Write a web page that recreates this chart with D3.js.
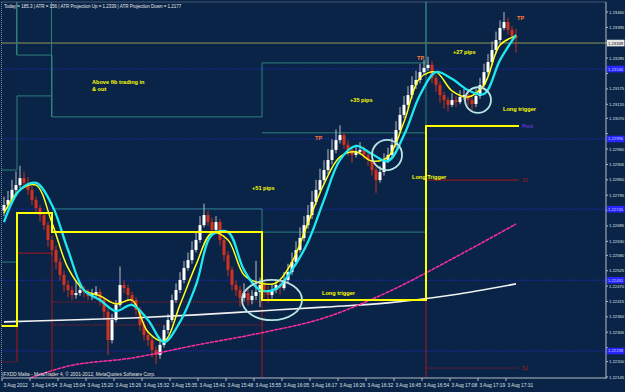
<html lang="en"><head>
<meta http-equiv="Content-Type" content="text/html; charset=UTF-8">
<title>EURUSD,M1</title>
<script type="text/javascript" src="https://cdn.jsdelivr.net/npm/d3@7"></script>
<style type="text/css">
body { margin: 0; background: #0a2447; }
text { font-family: "Liberation Sans", Arial, sans-serif; }
</style>
</head>
<body>
<script type="text/javascript">

var width = 625;
var height = 392;
var plotLeft = 1.5, plotRight = 606, plotTop = 2, plotBottom = 378;

//candles: open of the first bar, then close / high / low of every bar
var firstOpen = 1.22740;
var closes = [1.22760,1.22778,1.22814,1.22831,1.22856,1.22839,1.22814,1.22778,1.22749,1.22724,
  1.22688,1.22635,1.22599,1.22556,1.22510,1.22474,1.22456,1.22438,1.22445,1.22456,
  1.22449,1.22435,1.22442,1.22449,1.22420,1.22378,1.22277,1.22349,1.22403,1.22474,
  1.22463,1.22438,1.22420,1.22385,1.22331,1.22295,1.22277,1.22242,1.22224,1.22260,
  1.22313,1.22349,1.22420,1.22456,1.22492,1.22535,1.22563,1.22599,1.22635,1.22688,
  1.22724,1.22699,1.22671,1.22699,1.22635,1.22581,1.22528,1.22474,1.22456,1.22428,
  1.22445,1.22420,1.22435,1.22449,1.22474,1.22456,1.22438,1.22456,1.22474,1.22463,
  1.22492,1.22520,1.22556,1.22599,1.22642,1.22688,1.22724,1.22771,1.22814,1.22849,
  1.22885,1.22921,1.22957,1.22992,1.23010,1.22975,1.22957,1.22939,1.22950,1.22957,
  1.22939,1.22921,1.22885,1.22849,1.22878,1.22921,1.22939,1.22975,1.23028,1.23082,
  1.23118,1.23153,1.23189,1.23207,1.23235,1.23250,1.23261,1.23214,1.23189,1.23153,
  1.23135,1.23118,1.23135,1.23128,1.23146,1.23153,1.23135,1.23121,1.23150,1.23189,
  1.23235,1.23271,1.23314,1.23350,1.23393,1.23414,1.23386,1.23364,1.23357];
var highs = [1.22790,1.22810,1.22850,1.22880,1.22900,1.22880,1.22860,1.22830,1.22790,1.22760,
  1.22735,1.22700,1.22650,1.22615,1.22570,1.22525,1.22490,1.22470,1.22490,1.22480,
  1.22470,1.22460,1.22460,1.22470,1.22460,1.22430,1.22390,1.22370,1.22420,1.22540,
  1.22490,1.22475,1.22450,1.22430,1.22395,1.22345,1.22310,1.22290,1.22255,1.22280,
  1.22330,1.22370,1.22440,1.22480,1.22520,1.22560,1.22590,1.22630,1.22665,1.22720,
  1.22765,1.22740,1.22715,1.22720,1.22710,1.22645,1.22595,1.22540,1.22490,1.22470,
  1.22480,1.22460,1.22455,1.22560,1.22500,1.22490,1.22470,1.22475,1.22495,1.22490,
  1.22520,1.22550,1.22590,1.22630,1.22680,1.22720,1.22760,1.22810,1.22850,1.22890,
  1.22920,1.22960,1.22995,1.23030,1.23045,1.23020,1.22990,1.22970,1.22975,1.22985,
  1.22970,1.22950,1.22930,1.22895,1.22900,1.22945,1.22965,1.23000,1.23060,1.23110,
  1.23150,1.23185,1.23220,1.23240,1.23265,1.23280,1.23290,1.23275,1.23225,1.23200,
  1.23165,1.23145,1.23160,1.23150,1.23170,1.23175,1.23165,1.23145,1.23175,1.23215,
  1.23265,1.23300,1.23345,1.23380,1.23420,1.23450,1.23430,1.23400,1.23390];
var lows = [1.22720,1.22745,1.22765,1.22800,1.22820,1.22820,1.22795,1.22760,1.22730,1.22700,
  1.22670,1.22610,1.22580,1.22530,1.22490,1.22450,1.22430,1.22420,1.22425,1.22435,
  1.22430,1.22420,1.22420,1.22430,1.22400,1.22350,1.22224,1.22265,1.22340,1.22395,
  1.22445,1.22420,1.22400,1.22365,1.22310,1.22275,1.22255,1.22215,1.22190,1.22210,
  1.22250,1.22300,1.22340,1.22410,1.22445,1.22480,1.22525,1.22550,1.22590,1.22625,
  1.22680,1.22685,1.22650,1.22660,1.22615,1.22560,1.22505,1.22455,1.22435,1.22395,
  1.22415,1.22400,1.22405,1.22420,1.22395,1.22430,1.22410,1.22425,1.22445,1.22440,
  1.22455,1.22480,1.22510,1.22545,1.22590,1.22630,1.22675,1.22710,1.22760,1.22800,
  1.22835,1.22870,1.22905,1.22945,1.22980,1.22960,1.22935,1.22910,1.22930,1.22940,
  1.22925,1.22900,1.22865,1.22803,1.22840,1.22865,1.22910,1.22930,1.22965,1.23020,
  1.23070,1.23105,1.23140,1.23175,1.23195,1.23225,1.23240,1.23195,1.23165,1.23125,
  1.23105,1.23095,1.23110,1.23110,1.23120,1.23135,1.23115,1.23095,1.23110,1.23140,
  1.23180,1.23225,1.23260,1.23300,1.23340,1.23385,1.23370,1.23340,1.23305];

//moving averages, read every 4 bars
var fastMA = [1.22731,1.22814,1.22831,1.22696,1.22535,1.22456,1.22435,1.22406,1.22420,1.22306,
  1.22274,1.22403,1.22546,1.22660,1.22635,1.22510,1.22481,1.22481,1.22556,1.22696,
  1.22835,1.22932,1.22950,1.22917,1.22932,1.23057,1.23214,1.23235,1.23168,1.23146,
  1.23189,1.23332,1.23364];
var slowMA = [1.22699,1.22814,1.22839,1.22760,1.22599,1.22456,1.22420,1.22381,1.22403,1.22349,
  1.22270,1.22342,1.22474,1.22653,1.22663,1.22528,1.22456,1.22460,1.22528,1.22628,
  1.22778,1.22921,1.22971,1.22942,1.22917,1.23010,1.23153,1.23235,1.23211,1.23171,
  1.23157,1.23278,1.23368];
//long moving averages, read every 16 bars
var whiteMA = [1.22342,1.22349,1.22356,1.22367,1.22381,1.22395,1.22410,1.22438,1.22478];
var pinkMA = [1.22106,1.22184,1.22213,1.22259,1.22302,1.22356,1.22449,1.22567,1.22692];

//indicator periods (bar edges) and their levels
var periodEdges = [-1, 3.25, 12, 64.5, 105.5, 128.75];
var triggerLevels = [1.22327, 1.22731, 1.22663, 1.22420, 1.23042];
var tealUpper = [1.2360, 1.23296, 1.23075, 1.23268, 1.2360];
var tealMiddle = [1.22885, 1.23150, null, 1.23018, 1.2360];
var tealLower = [1.22556, null, 1.22746, 1.22663, null];
var tealEdgeTop = [1, 2];   // period edges whose teal line runs up to the top
var redSolid = [[1, 1.22588], [4, 1.22849]];
var redDotted = [[0, 1.22199], [2, 1.22413], [2, 1.22331], [4, 1.22177]];
var redVertical = [[1, 1.22588, 1.22199], [2, 1.22588, 1.2200], [3, 1.22663, 1.2200], [4, 1.22849, 1.2200]];
var blueLevels = [1.23246, 1.22996, 1.22745, 1.22491, 1.22238];
var priceLine = 1.23339;

var priceTicks = [1.23450,1.23395,1.23340,1.23285,1.23230,1.23175,1.23120,1.23070,1.23015,1.22960,
  1.22905,1.22850,1.22795,1.22740,1.22685,1.22630,1.22580,1.22525,1.22470,1.22415,
  1.22360,1.22305,1.22250,1.22200,1.22145];
var timeLabels = ["3 Aug 2012","3 Aug 14:54","3 Aug 15:04","3 Aug 15:20","3 Aug 15:26","3 Aug 15:32",
  "3 Aug 15:35","3 Aug 15:41","3 Aug 15:48","3 Aug 15:55","3 Aug 16:05","3 Aug 16:17","3 Aug 16:26",
  "3 Aug 16:32","3 Aug 16:45","3 Aug 16:54","3 Aug 17:08","3 Aug 17:19","3 Aug 17:31"];

//hand annotations: [text, bar, price]
var notes = [["Above fib trading in", 22, 1.23193], ["& out", 22, 1.23167], ["+35 pips", 86.5, 1.23128],
  ["+51 pips", 62, 1.22814], ["+27 pips", 112.25, 1.23300], ["Long trigger", 79.5, 1.22438],
  ["Long Trigger", 102, 1.22853], ["Long trigger", 124.75, 1.23096]];
var tpNotes = [[77.75, 1.22993], [103.25, 1.23278], [128.25, 1.23421]];
//circles: [bar, price, half width in bars, half height in price]
var circles = [[67, 1.22420, 7.5, 0.00072], [95.75, 1.22939, 3.75, 0.00054], [118.5, 1.23135, 3.25, 0.00046]];

var header = "Today = 185.3  |  ATR = 156  |  ATR Projection Up = 1.2339  |  ATR Projection Down = 1.2177";
var footer = "(FXDD Malta - MetaTrader 4, \u00a9 2001-2012, MetaQuotes Software Corp.";

var x = d3.scaleLinear().domain([0, 128]).range([4, 516]);
var y = d3.scaleLinear().domain([1.22145, 1.23450]).range([377, 12]);

var svg = d3.select("body").append("svg")
  .attr("width", width).attr("height", height);

svg.append("rect").attr("width", width).attr("height", height).attr("fill", "#0a2447");

svg.append("clipPath").attr("id", "plot")
  .append("rect").attr("x", plotLeft).attr("y", plotTop)
  .attr("width", plotRight - plotLeft).attr("height", plotBottom - plotTop);

var plot = svg.append("g").attr("clip-path", "url(#plot)");

//frame
svg.append("line").attr("x1", plotLeft).attr("x2", plotRight).attr("y1", plotTop).attr("y2", plotTop)
  .attr("stroke", "#7d8a9a").attr("stroke-dasharray", "1,1");
svg.append("line").attr("x1", plotLeft).attr("x2", plotLeft).attr("y1", plotTop).attr("y2", plotBottom)
  .attr("stroke", "#7d8a9a").attr("stroke-dasharray", "1,1");

//level lines
plot.selectAll(".blue").data(blueLevels).enter().append("line")
  .attr("x1", plotLeft).attr("x2", plotRight)
  .attr("y1", d => y(d)).attr("y2", d => y(d))
  .attr("stroke", "#2a2aff").attr("stroke-dasharray", "1,2");

plot.append("line").attr("x1", plotLeft).attr("x2", plotRight)
  .attr("y1", y(priceLine)).attr("y2", y(priceLine))
  .attr("stroke", "#8e9a58");

function periodPoints(levels) {
  var pts = [];
  levels.forEach(function(v, p) {
    pts.push([periodEdges[p], v]);
    pts.push([periodEdges[p + 1], v]);
  });
  return pts;
}
var levelLine = d3.line()
  .defined(d => d[1] != null)
  .x(d => x(d[0]))
  .y(d => y(d[1]));

[tealUpper, tealMiddle, tealLower].forEach(function(levels) {
  plot.append("path").attr("d", levelLine(periodPoints(levels)))
    .attr("fill", "none").attr("stroke", "#2e7f7c").attr("stroke-width", 1);
});
tealEdgeTop.forEach(function(p) {
  plot.append("line").attr("x1", x(periodEdges[p]) - 0.5).attr("x2", x(periodEdges[p]) - 0.5)
    .attr("y1", plotTop).attr("y2", y(tealUpper[p]))
    .attr("stroke", "#2e7f7c").attr("stroke-width", 1);
});

redSolid.forEach(function(r) {
  plot.append("line").attr("x1", x(periodEdges[r[0]]) + 1).attr("x2", x(periodEdges[r[0] + 1]))
    .attr("y1", y(r[1])).attr("y2", y(r[1]))
    .attr("stroke", "#a8161a").attr("stroke-width", 1);
});
redDotted.forEach(function(r) {
  plot.append("line").attr("x1", x(periodEdges[r[0]]) + 1).attr("x2", x(periodEdges[r[0] + 1]))
    .attr("y1", y(r[1])).attr("y2", y(r[1]))
    .attr("stroke", "#a8161a").attr("stroke-dasharray", "1,1");
});
redVertical.forEach(function(r) {
  plot.append("line").attr("x1", x(periodEdges[r[0]])).attr("x2", x(periodEdges[r[0]]))
    .attr("y1", y(r[1])).attr("y2", y(r[2]))
    .attr("stroke", "#a8161a").attr("stroke-width", 1);
});

//candles
var bars = closes.map(function(c, i) {
  return {i: i, open: i == 0 ? firstOpen : closes[i - 1], close: c, high: highs[i], low: lows[i]};
});
var candle = plot.selectAll(".candle").data(bars).enter().append("g");
candle.append("line")
  .attr("x1", d => x(d.i)).attr("x2", d => x(d.i))
  .attr("y1", d => y(d.high)).attr("y2", d => y(d.low))
  .attr("stroke", d => d.close >= d.open ? "#b8bcc4" : "#c8301f");
candle.append("rect")
  .attr("x", d => x(d.i) - 1.5).attr("width", 3)
  .attr("y", d => y(Math.max(d.open, d.close)))
  .attr("height", d => Math.max(1, Math.abs(y(d.open) - y(d.close))))
  .attr("fill", d => d.close >= d.open ? "#ffffff" : "#d2321e");

//moving averages
var maLine = d3.line()
  .x(d => x(d[0]))
  .y(d => y(d[1]))
  .curve(d3.curveCatmullRom);

plot.append("path").attr("d", maLine(whiteMA.map((v, k) => [k * 16, v])))
  .attr("fill", "none").attr("stroke", "#f2f2f2").attr("stroke-width", 1.6);
plot.append("path").attr("d", maLine(pinkMA.map((v, k) => [k * 16, v])))
  .attr("fill", "none").attr("stroke", "#ff2f9e").attr("stroke-width", 1.5)
  .attr("stroke-dasharray", "4,0.7");
plot.append("path").attr("d", maLine(fastMA.map((v, k) => [k * 4, v])))
  .attr("fill", "none").attr("stroke", "#ffff1a").attr("stroke-width", 1.5);
plot.append("path").attr("d", maLine(slowMA.map((v, k) => [k * 4, v])))
  .attr("fill", "none").attr("stroke", "#1ee8f0").attr("stroke-width", 2.3);

//trigger / pivot step line
plot.append("path").attr("d", levelLine(periodPoints(triggerLevels)))
  .attr("fill", "none").attr("stroke", "#ffff00").attr("stroke-width", 2);

//level names
var levelNames = [["Pivot", triggerLevels[4], "#7b3cf0"], ["S1", redSolid[1][1], "#a8161a"], ["S2", redDotted[3][1], "#a8161a"]];
svg.selectAll(".lvl").data(levelNames).enter().append("text")
  .attr("x", x(periodEdges[5]) + 3).attr("y", d => y(d[1]) + 2)
  .attr("font-size", 5).attr("fill", d => d[2]).text(d => d[0]);

//circles
plot.selectAll(".circ").data(circles).enter().append("ellipse")
  .attr("cx", d => x(d[0])).attr("cy", d => y(d[1]))
  .attr("rx", d => x(d[2]) - x(0)).attr("ry", d => y(0) - y(d[3]))
  .attr("fill", "none").attr("stroke", "#b6e6e4").attr("stroke-width", 1.8);

//annotations
svg.selectAll(".note").data(notes).enter().append("text")
  .attr("x", d => x(d[1])).attr("y", d => y(d[2]))
  .attr("font-size", 5.6).attr("font-weight", "bold").attr("fill", "#ffff00")
  .text(d => d[0]);
svg.selectAll(".tp").data(tpNotes).enter().append("text")
  .attr("x", d => x(d[0])).attr("y", d => y(d[1]))
  .attr("font-size", 5.6).attr("font-weight", "bold").attr("fill", "#ff7a3c")
  .text("TP");

//price axis; labels under a level box are hidden as in the terminal
var boxed = blueLevels.concat([priceLine]);
var shownTicks = priceTicks.filter(v => boxed.every(b => Math.abs(y(v) - y(b)) > 5.5));
svg.append("line").attr("x1", plotRight).attr("x2", plotRight).attr("y1", plotTop).attr("y2", plotBottom + 1)
  .attr("stroke", "#b4bcc6");
var pt = svg.selectAll(".ptick").data(priceTicks).enter().append("line")
  .attr("x1", plotRight).attr("x2", plotRight + 2)
  .attr("y1", d => y(d)).attr("y2", d => y(d)).attr("stroke", "#b4bcc6");
svg.selectAll(".plabel").data(shownTicks).enter().append("text")
  .attr("x", plotRight + 3).attr("y", d => y(d) + 1.5)
  .attr("font-size", 4.2).attr("fill", "#dde2e8").text(d => d.toFixed(5));

function priceBox(v, fill, color) {
  svg.append("rect").attr("x", plotRight + 1).attr("y", y(v) - 3.3)
    .attr("width", 17.5).attr("height", 6.6).attr("fill", fill);
  svg.append("text").attr("x", plotRight + 2).attr("y", y(v) + 1.5)
    .attr("font-size", 4.2).attr("fill", color).text(v.toFixed(5));
}
blueLevels.forEach(v => priceBox(v, "#2525ff", "#c8c8ff"));
priceBox(priceLine, "#e6e6e6", "#000000");

//time axis
svg.append("line").attr("x1", plotLeft).attr("x2", plotRight).attr("y1", plotBottom).attr("y2", plotBottom)
  .attr("stroke", "#b4bcc6");
var tt = svg.selectAll(".ttick").data(timeLabels).enter().append("g");
tt.append("line").attr("x1", (d, k) => x(k * 7) - 2).attr("x2", (d, k) => x(k * 7) - 2)
  .attr("y1", plotBottom).attr("y2", plotBottom + 3).attr("stroke", "#b4bcc6");
tt.append("text").attr("x", (d, k) => x(k * 7) - 0.5).attr("y", plotBottom + 8.5)
  .attr("font-size", 4.8).attr("fill", "#dde2e8").text(d => d);

//texts
svg.append("text").attr("x", 4).attr("y", 7.5).attr("font-size", 4.5).attr("fill", "#e8e8e8").text(header);
svg.append("text").attr("x", 2).attr("y", plotBottom - 2.5).attr("font-size", 4.8).attr("fill", "#e0e0e0").text(footer);

</script>
</body></html>
